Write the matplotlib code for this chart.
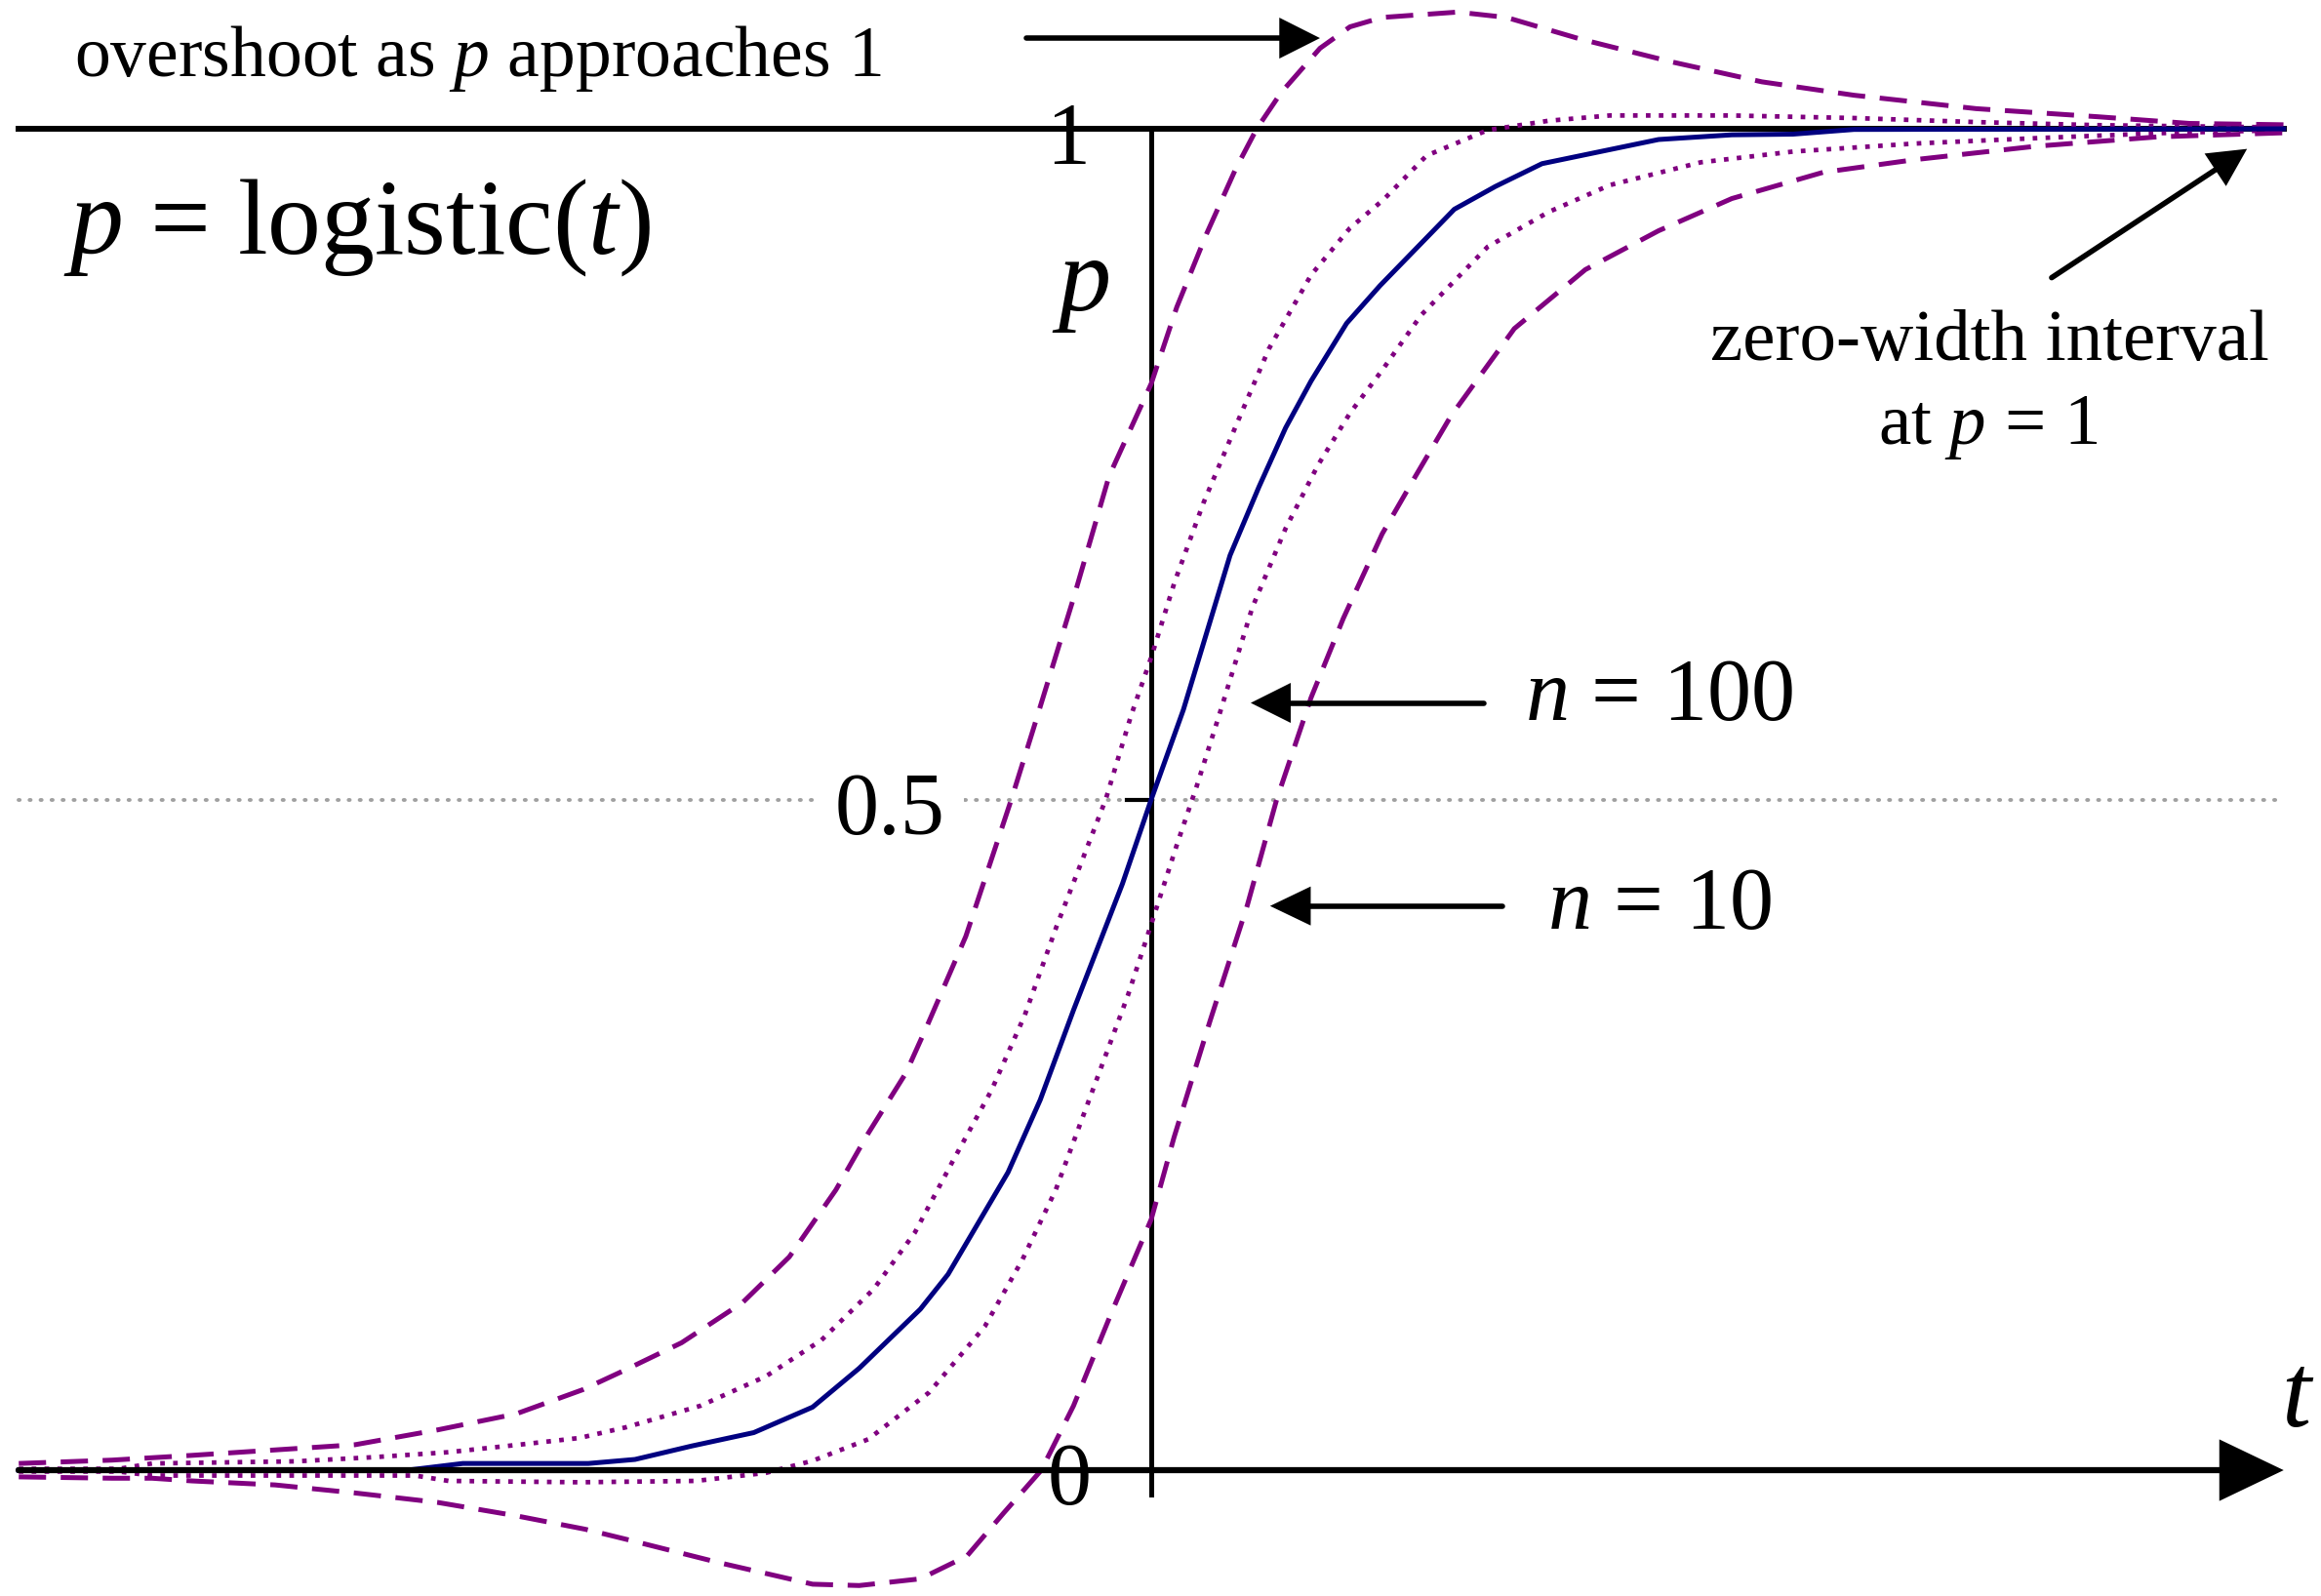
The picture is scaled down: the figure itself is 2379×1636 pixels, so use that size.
import numpy as np
import matplotlib.pyplot as plt
from matplotlib.patches import Polygon

plt.rcParams['font.family'] = 'Liberation Serif'
plt.rcParams['mathtext.fontset'] = 'custom'
plt.rcParams['mathtext.rm'] = 'Liberation Serif'
plt.rcParams['mathtext.it'] = 'Liberation Serif:italic'

# centre curve p = logistic(t)
t_mid = [-10.2, -6.7, -6.2, -5.07, -4.65, -4.14, -3.58, -3.05, -2.63, -2.08, -1.83,
         -1.29, -1.0, -0.70, -0.26, 0.0, 0.29, 0.71, 0.97, 1.21, 1.44, 1.76, 2.06,
         2.73, 3.1, 3.52, 4.57, 5.23, 5.78, 6.33, 10.2]
p_mid = [0.0, 0.0, 0.005, 0.005, 0.008, 0.018, 0.028, 0.047, 0.076, 0.12, 0.146,
         0.222, 0.276, 0.343, 0.437, 0.5, 0.567, 0.682, 0.733, 0.777, 0.812, 0.855, 0.883,
         0.94, 0.957, 0.974, 0.992, 0.9955, 0.996, 0.9995, 1.0]

# n = 100 interval (dotted)
t_hi100 = [-10.2, -9.3, -9.0, -7.7, -7.0, -6.33, -5.66, -5.15, -4.73, -4.06, -3.47,
           -2.97, -2.5, -2.13, -1.79, -1.44, -1.14, -0.85, -0.41, -0.18, 0.0, 0.21,
           0.47, 0.77, 1.06, 1.44, 1.79, 2.09, 2.48, 3.03, 3.58, 4.13, 5.23, 6.33,
           7.43, 8.52, 10.2]
p_hi100 = [0.001, 0.001, 0.005, 0.0066, 0.0097, 0.0134, 0.0193, 0.024, 0.032, 0.048, 0.07,
           0.097, 0.135, 0.177, 0.23, 0.283, 0.339, 0.406, 0.5, 0.563, 0.606, 0.662,
           0.721, 0.78, 0.836, 0.891, 0.926, 0.947, 0.98, 0.999, 1.006, 1.0099, 1.0099, 1.008,
           1.005, 1.0027, 1.001]
t_lo100 = [-10.2, -9.3, -9.0, -6.63, -6.33, -5.15, -4.1, -3.47, -3.05, -2.55, -2.0,
           -1.5, -1.16, -0.86, -0.56, -0.21, 0.0, 0.23, 0.41, 0.62, 0.91, 1.21, 1.5,
           1.79, 2.08, 2.43, 3.03, 3.58, 4.13, 4.95, 5.78, 6.88, 7.97, 9.07, 10.2]
p_lo100 = [-0.001, -0.001, -0.004, -0.004, -0.008, -0.009, -0.008, -0.002, 0.007, 0.023, 0.058,
           0.107, 0.157, 0.209, 0.276, 0.354, 0.407, 0.466, 0.51, 0.565, 0.643, 0.702, 0.749,
           0.788, 0.82, 0.861, 0.912, 0.938, 0.958, 0.975, 0.983, 0.989, 0.993, 0.9967, 0.999]

# n = 10 interval (dashed)
t_hi10 = [-10.2, -9.36, -8.65, -7.91, -7.17, -6.43, -5.72, -5.12, -4.73, -4.23, -3.68,
          -3.26, -2.84, -2.55, -2.21, -2.02, -1.67, -1.26, -1.06, -0.70, -0.38, 0.0,
          0.23, 0.50, 0.76, 0.95, 1.17, 1.52, 1.79, 2.08, 2.76, 3.2, 3.86, 4.68, 5.5,
          6.33, 7.43, 8.52, 9.35, 10.2]
p_hi10 = [0.005, 0.0075, 0.011, 0.015, 0.019, 0.030, 0.042, 0.06, 0.075, 0.095, 0.125,
          0.159, 0.209, 0.251, 0.296, 0.331, 0.398, 0.5, 0.553, 0.65, 0.741, 0.81,
          0.867, 0.922, 0.97, 1.0, 1.027, 1.06, 1.076, 1.083, 1.087, 1.083, 1.067, 1.05, 1.035,
          1.025, 1.015, 1.009, 1.004, 1.003]
t_lo10 = [-10.2, -9.36, -9.0, -8.64, -7.89, -7.17, -6.43, -5.72, -5.1, -4.73, -3.89,
          -3.05, -2.63, -2.08, -1.66, -1.33, -0.99, -0.70, -0.36, 0.0, 0.205, 0.53,
          0.865, 1.13, 1.44, 1.73, 2.08, 2.38, 2.70, 3.27, 3.91, 4.57, 5.23, 6.05, 6.88,
          7.97, 9.07, 10.2]
p_lo10 = [-0.005, -0.006, -0.006, -0.008, -0.011, -0.017, -0.024, -0.034, -0.044, -0.0515, -0.069,
          -0.085, -0.086, -0.081, -0.064, -0.032, 0.0, 0.048, 0.117, 0.187, 0.248, 0.335,
          0.421, 0.5, 0.576, 0.635, 0.698, 0.741, 0.786, 0.851, 0.895, 0.924, 0.948, 0.9675, 0.977,
          0.987, 0.994, 0.997]

purple = '#800080'
navy = '#000080'

fig = plt.figure(figsize=(23.79, 16.36), dpi=100)
ax = fig.add_axes([0, 0, 1, 1])
ax.set_xlim(-10.369, 10.536)
ax.set_ylim(-0.0938, 1.096)
ax.axis('off')

t0, t1 = t_mid[0], t_mid[-1]


def arrow(tail, tip, head_len, head_half, lw=4.0):
    # head sizes in pixels
    a = ax.transData.transform(tail)
    b = ax.transData.transform(tip)
    d = (b - a) / np.hypot(*(b - a))
    n = np.array([-d[1], d[0]])
    base = b - d * head_len
    inv = ax.transData.inverted()
    shaft = inv.transform([a, base + d * 3])
    ax.plot(shaft[:, 0], shaft[:, 1], color='black', lw=lw, solid_capstyle='round', zorder=6)
    tri = inv.transform([b, base + n * head_half, base - n * head_half])
    ax.add_patch(Polygon(tri, closed=True, facecolor='black', edgecolor='none', zorder=6))


# reference line at 0.5
ax.plot([t0, t1], [0.5, 0.5], color='#a0a0a0', lw=2.8,
        linestyle=(0, (0.3, 2.6)), dash_capstyle='round', zorder=1)

# axes
ax.plot([t0, t1], [1, 1], color='black', lw=4.3, zorder=2)
ax.plot([0, 0], [-0.018, 1.0], color='black', lw=3.6, zorder=2)
ax.plot([-0.22, 0], [0.5, 0.5], color='black', lw=3.0, zorder=2)
arrow((t0, 0), (t1, 0), 66, 31.6, lw=4.5)

# curves
dash = (0, (5.6, 3.0))
dot = (0, (1, 1.8))
ax.plot(t_hi10, p_hi10, color=purple, lw=3.6, linestyle=dash, zorder=4)
ax.plot(t_lo10, p_lo10, color=purple, lw=3.6, linestyle=dash, zorder=4)
ax.plot(t_hi100, p_hi100, color=purple, lw=3.4, linestyle=dot, zorder=4)
ax.plot(t_lo100, p_lo100, color=purple, lw=3.4, linestyle=dot, zorder=4)
ax.plot(t_mid, p_mid, color=navy, lw=3.6, zorder=5)

# annotation arrows
arrow((-1.125, 1.0676), (1.52, 1.0676), 41.7, 21)
arrow((3.0, 0.572), (0.896, 0.572), 41, 20.5)
arrow((3.16, 0.4206), (1.07, 0.4206), 41.7, 20)
arrow((8.11, 0.889), (9.87, 0.985), 39, 20)

# texts
ax.text(-9.80, 0.907, '$p$ = logistic($t$)', fontsize=79, ha='left', va='baseline', zorder=7)
ax.text(-9.70, 1.039, 'overshoot as $p$ approaches 1', fontsize=53, ha='left', va='baseline', zorder=7)
ax.text(-0.747, 0.9738, '1', fontsize=65, ha='center', va='baseline', zorder=7)
ax.text(-2.355, 0.474, '0.5', fontsize=65, ha='center', va='baseline', zorder=3,
        bbox=dict(boxstyle='square,pad=0.22', facecolor='white', edgecolor='none'))
ax.text(-0.738, -0.0255, '0', fontsize=65, ha='center', va='baseline', zorder=7)
ax.text(-0.633, 0.865, '$p$', fontsize=78, ha='center', va='baseline', zorder=7)
ax.text(10.33, 0.0327, '$t$', fontsize=78, ha='center', va='baseline', zorder=7)
ax.text(3.366, 0.559, '$n$ = 100', fontsize=65, ha='left', va='baseline', zorder=7)
ax.text(3.568, 0.404, '$n$ = 10', fontsize=65, ha='left', va='baseline', zorder=7)
ax.text(7.548, 0.828, 'zero-width interval', fontsize=54, ha='center', va='baseline', zorder=7)
ax.text(7.54, 0.765, 'at $p$ = 1', fontsize=54, ha='center', va='baseline', zorder=7)

fig.savefig('out.png', dpi=100, facecolor='white')
